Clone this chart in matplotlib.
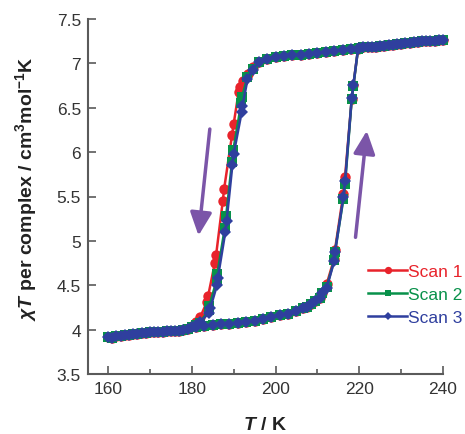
import matplotlib
matplotlib.use("Agg")
import matplotlib.pyplot as plt
import numpy as np

plt.rcParams['font.family'] = ['Liberation Sans', 'DejaVu Sans']
plt.rcParams['mathtext.fontset'] = 'custom'
plt.rcParams['mathtext.rm'] = 'Liberation Sans:bold'
plt.rcParams['mathtext.it'] = 'Liberation Sans:italic:bold'
plt.rcParams['mathtext.bf'] = 'Liberation Sans:bold'

# ---- data ----
# high-temperature plateau (cooling start, 240 K downward)
T_plateau_cool = [240, 238, 236, 234, 232, 230, 228, 226, 224, 222, 220, 218, 216,
                  214, 212, 210, 208, 206, 204, 202, 200, 198, 196]
chi_plateau_cool = [7.26, 7.255, 7.25, 7.24, 7.23, 7.22, 7.21, 7.20, 7.19, 7.18, 7.17,
                    7.16, 7.15, 7.14, 7.13, 7.12, 7.11, 7.10, 7.09, 7.08, 7.07, 7.05, 7.01]

# cooling transitions (per scan)
T_cool_s1 = [194.5, 193.5, 192.3, 191.5, 191.2, 190.0, 189.6, 187.7, 187.4, 185.8,
             185.5, 183.9, 183.6, 182.0, 181.0, 180.0]
chi_cool_s1 = [6.96, 6.88, 6.80, 6.73, 6.68, 6.32, 6.19, 5.58, 5.45, 4.84, 4.75,
               4.38, 4.31, 4.14, 4.09, 4.04]
T_cool_s2 = [194.5, 193.3, 192.0, 191.8, 189.9, 189.6, 188.2, 187.9, 186.1, 185.9,
             184.2, 184.0, 182.0, 181.0, 180.0]
chi_cool_s2 = [6.94, 6.85, 6.62, 6.55, 6.02, 5.89, 5.28, 5.15, 4.63, 4.55, 4.27,
               4.22, 4.08, 4.05, 4.03]
T_cool_s3 = [194.5, 193.3, 192.1, 191.9, 190.0, 189.7, 188.3, 188.0, 186.2, 186.0,
             184.4, 184.2, 182.0, 181.0, 180.0]
chi_cool_s3 = [6.93, 6.82, 6.52, 6.45, 5.98, 5.86, 5.22, 5.10, 4.58, 4.50, 4.24,
               4.19, 4.09, 4.05, 4.03]

# low-temperature branch (cooling end)
T_low_cool = [178, 176, 174, 172, 170, 168, 166, 164, 162, 160]
chi_low_cool = [4.00, 3.99, 3.98, 3.97, 3.97, 3.96, 3.95, 3.94, 3.93, 3.92]

# low-temperature branch (heating start)
T_low_heat = [161, 163, 165, 167, 169, 171, 173, 175, 177, 179, 181, 183, 185, 187,
              189, 191, 193, 195, 197, 199, 201, 203, 205, 206.5, 207.5, 208.5,
              209.5, 210.5, 211.2]
chi_low_heat = [3.91, 3.93, 3.94, 3.95, 3.96, 3.97, 3.97, 3.98, 3.99, 4.01, 4.03,
                4.04, 4.05, 4.06, 4.06, 4.07, 4.09, 4.10, 4.12, 4.14, 4.16, 4.18,
                4.21, 4.24, 4.26, 4.29, 4.32, 4.36, 4.41]

# heating transitions (per scan)
T_heat_s1 = [212.2, 214.0, 214.2, 216.2, 216.6, 218.2, 218.6, 219.7]
chi_heat_s1 = [4.51, 4.80, 4.90, 5.53, 5.72, 6.60, 6.76, 7.16]
T_heat_s2 = [212.2, 214.0, 214.2, 216.2, 216.6, 218.2, 218.6, 219.7]
chi_heat_s2 = [4.48, 4.78, 4.88, 5.47, 5.64, 6.60, 6.75, 7.16]
T_heat_s3 = [212.2, 214.0, 214.2, 216.2, 216.6, 218.2, 218.6, 219.7]
chi_heat_s3 = [4.47, 4.77, 4.87, 5.49, 5.67, 6.61, 6.76, 7.16]

# high-temperature plateau (heating end)
T_plateau_heat = [221, 223, 225, 227, 229, 231, 233, 235, 237, 239]
chi_plateau_heat = [7.18, 7.19, 7.20, 7.21, 7.22, 7.23, 7.24, 7.25, 7.255, 7.265]

labels = ['Scan 1', 'Scan 2', 'Scan 3']
colors = ['#e8232b', '#08914a', '#2f3f9e']
markers = ['o', 's', 'D']
msizes = [7.5, 7.0, 6.0]

scans = [
    (T_cool_s1, chi_cool_s1, T_heat_s1, chi_heat_s1),
    (T_cool_s2, chi_cool_s2, T_heat_s2, chi_heat_s2),
    (T_cool_s3, chi_cool_s3, T_heat_s3, chi_heat_s3),
]

fig = plt.figure(figsize=(4.65, 4.35), dpi=100)
ax = fig.add_axes([88/465, 1-375/435, 355/465, 355/435])

for (tc, cc, th, ch), lab, col, mk, ms in zip(scans, labels, colors, markers, msizes):
    T = np.concatenate([T_plateau_cool, tc, T_low_cool, T_low_heat, th, T_plateau_heat])
    C = np.concatenate([chi_plateau_cool, cc, chi_low_cool, chi_low_heat, ch, chi_plateau_heat])
    ax.plot(T, C, color=col, marker=mk, ms=ms, lw=1.8, label=lab, clip_on=False,
            markeredgewidth=0)

ax.set_xlim(155.2, 240)
ax.set_ylim(3.5, 7.5)
ax.set_xticks([160, 180, 200, 220, 240])
ax.set_xticks([170, 190, 210, 230], minor=True)
ax.set_yticks([3.5, 4, 4.5, 5, 5.5, 6, 6.5, 7, 7.5])
ax.set_yticklabels(['3.5', '4', '4.5', '5', '5.5', '6', '6.5', '7', '7.5'])

for s in ['top', 'right']:
    ax.spines[s].set_visible(False)
for s in ['left', 'bottom']:
    ax.spines[s].set_color('#5a5a5a')
    ax.spines[s].set_linewidth(1.5)

ax.tick_params(which='major', direction='in', length=6, width=1.2, color='#5a5a5a',
               labelsize=12.5, labelcolor='#333333', pad=5)
ax.tick_params(which='minor', direction='in', length=3.5, width=1.2, color='#5a5a5a')

ax.set_ylabel(r'$\chi T$ per complex / cm$^{3}$mol$^{-1}$K', fontsize=14,
              fontweight='bold', color='#222222')
ax.set_xlabel(r'$T$ / K', fontsize=14, fontweight='bold', color='#222222')
ax.yaxis.set_label_coords(-0.138, 0.524)
ax.xaxis.set_label_coords(0.5, -0.118)

purple = '#7b55a8'
ax.annotate('', xy=(181.6, 5.06), xytext=(184.3, 6.26),
            arrowprops=dict(arrowstyle='-|>,head_length=0.7,head_width=0.33', color=purple,
                            lw=2.5, shrinkA=0, shrinkB=0, mutation_scale=20))
ax.annotate('', xy=(221.8, 6.24), xytext=(219.1, 5.04),
            arrowprops=dict(arrowstyle='-|>,head_length=0.7,head_width=0.33', color=purple,
                            lw=2.5, shrinkA=0, shrinkB=0, mutation_scale=20))

leg = ax.legend(loc='upper left', bbox_to_anchor=(0.79, 0.31), frameon=False,
                fontsize=12.5, handlelength=2.2, handletextpad=0.1, labelspacing=0.45,
                borderpad=0, borderaxespad=0, markerscale=0.7)
for txt, col in zip(leg.get_texts(), colors):
    txt.set_color(col)

fig.savefig('out.png', dpi=100)
